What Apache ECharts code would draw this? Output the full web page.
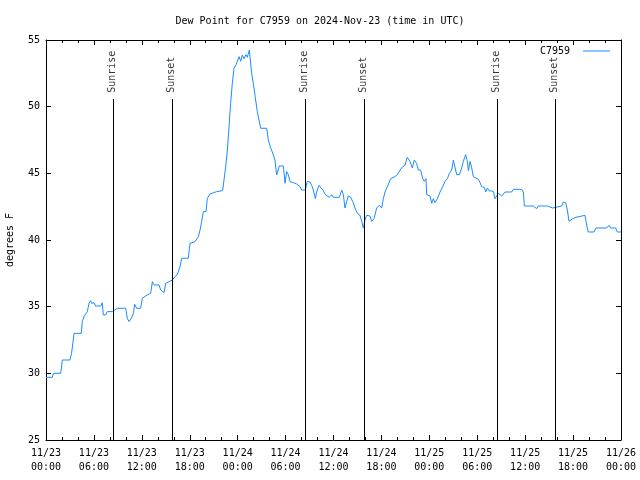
<!DOCTYPE html>
<html>
<head>
<meta charset="utf-8">
<script src="https://cdn.jsdelivr.net/npm/echarts@6/dist/echarts.min.js"></script>
<style>
html,body{margin:0;padding:0;background:#fff;}
#chart{width:640px;height:480px;}
</style>
</head>
<body>
<div id="chart"></div>
<script>
// Hours since 2024-11-23 00:00 UTC
const hours = [
  0.0, 0.79, 0.92, 1.84, 2.05, 3.0, 3.2, 3.35, 3.51, 4.42,
  4.55, 4.76, 4.9, 5.0, 5.18, 5.38, 5.59, 5.7, 6.01, 6.22,
  6.85, 7.05, 7.18, 7.47, 7.68, 8.31, 8.93, 9.98, 10.18, 10.39,
  10.69, 10.94, 11.1, 11.35, 11.85, 12.06, 12.69, 13.11, 13.32, 13.52,
  14.15, 14.36, 14.78, 14.99, 15.82, 16.03, 16.15, 16.44, 16.78, 16.99,
  17.82, 18.03, 18.66, 19.08, 19.29, 19.49, 19.7, 20.04, 20.2, 20.54,
  21.37, 22.12, 22.29, 22.5, 22.71, 22.92, 23.12, 23.33, 23.54, 23.79,
  23.96, 24.17, 24.38, 24.58, 24.79, 25.04, 25.21, 25.46, 25.75, 25.96,
  26.25, 26.46, 26.71, 26.88, 27.63, 27.84, 28.05, 28.26, 28.47, 28.67,
  28.88, 29.22, 29.72, 29.93, 30.14, 30.34, 30.55, 30.97, 31.39, 31.81,
  32.02, 32.47, 32.72, 33.06, 33.27, 33.47, 33.73, 33.89, 34.19, 34.44,
  34.73, 34.98, 35.23, 35.48, 35.77, 35.98, 36.73, 37.03, 37.23, 37.44,
  37.65, 37.86, 38.15, 38.4, 38.69, 38.99, 39.32, 39.53, 39.74, 39.95,
  40.15, 40.36, 40.57, 40.78, 41.07, 41.41, 41.74, 42.03, 42.24, 42.45,
  42.74, 42.99, 43.16, 43.41, 43.7, 43.99, 44.33, 44.66, 44.95, 45.24,
  45.58, 45.87, 46.12, 46.41, 46.62, 46.91, 47.17, 47.37, 47.58, 47.67,
  48.09, 48.3, 48.5, 48.71, 49.01, 49.34, 49.67, 49.97, 50.26, 50.51,
  50.8, 51.01, 51.26, 51.42, 51.76, 52.05, 52.26, 52.55, 52.76, 52.89,
  53.1, 53.31, 53.51, 53.72, 54.14, 54.35, 54.55, 54.89, 55.06, 55.27,
  55.47, 56.02, 56.22, 56.43, 56.64, 56.85, 57.06, 57.27, 57.48, 58.31,
  58.52, 59.56, 59.77, 59.9, 61.02, 61.23, 61.44, 61.65, 62.78, 62.99,
  63.45, 63.61, 64.57, 64.78, 65.07, 65.28, 65.49, 65.7, 65.95, 66.37,
  66.53, 67.49, 67.7, 67.91, 68.62, 68.87, 70.21, 70.5, 70.71, 71.33,
  71.54, 72.0
];
const dewF = [
  29.7, 29.7, 30.0, 30.0, 31.0, 31.0, 31.5, 32.2, 33.0, 33.0,
  33.9, 34.25, 34.1, 34.25, 34.63, 35.25, 35.45, 35.25, 35.3, 35.05,
  35.05, 35.3, 34.38, 34.38, 34.63, 34.63, 34.88, 34.88, 34.13, 33.88,
  34.13, 34.5, 35.18, 34.88, 34.88, 35.63, 35.88, 36.0, 36.88, 36.63,
  36.63, 36.25, 36.05, 36.75, 37.0, 37.05, 37.25, 37.4, 38.0, 38.63,
  38.63, 39.75, 39.88, 40.25, 40.75, 41.38, 42.13, 42.13, 43.13, 43.45,
  43.63, 43.7, 44.5, 45.5, 46.75, 48.5, 50.25, 51.75, 52.88, 53.13,
  53.25, 53.75, 53.4, 53.88, 53.6, 53.9, 53.7, 54.25, 52.5, 51.75,
  50.5, 49.63, 48.88, 48.38, 48.38, 47.5, 47.05, 47.0, 46.38, 46.0,
  44.88, 45.55, 45.55, 44.25, 45.13, 44.9, 44.38, 44.3, 44.2, 44.0,
  43.75, 43.75, 44.4, 44.35, 44.1, 43.75, 43.1, 43.6, 44.1, 43.9,
  43.7, 43.4, 43.45, 43.2, 43.4, 43.2, 43.2, 43.75, 43.4, 42.4,
  42.9, 43.3, 43.2, 42.9, 42.4, 42.0, 41.85, 41.4, 40.9, 41.5,
  41.85, 41.9, 41.8, 41.4, 41.6, 42.4, 42.6, 42.4, 43.1, 43.6,
  44.0, 44.1, 44.6, 44.5, 44.75, 44.9, 45.25, 45.5, 45.6, 46.2,
  45.9, 45.4, 46.0, 45.75, 45.25, 45.25, 44.6, 44.4, 44.6, 43.4,
  43.3, 42.75, 43.1, 42.8, 43.1, 43.6, 44.0, 44.4, 44.6, 45.0,
  45.25, 46.0, 46.1, 44.9, 44.9, 45.4, 45.9, 46.4, 45.9, 45.2,
  45.9, 45.4, 44.75, 44.6, 44.55, 44.3, 44.0, 43.95, 43.6, 43.9,
  43.7, 43.65, 43.1, 43.25, 43.5, 43.55, 43.3, 43.3, 43.6, 43.6,
  43.8, 43.8, 43.6, 42.55, 42.55, 42.4, 42.35, 42.55, 42.55, 42.4,
  42.4, 42.55, 42.55, 42.85, 42.8, 42.25, 41.4, 41.35, 41.6, 41.7,
  41.85, 41.85, 41.1, 40.6, 40.6, 40.9, 40.9, 41.1, 40.9, 40.9,
  40.6, 40.6
];
const sunriseHours = [8.42, 32.48, 56.51];
const sunsetHours = [15.82, 39.82, 63.78];
const eventLineTop = 50.57;
const eventLabelBase = 51.0;
const seriesName = 'C7959';
const titleText = 'Dew Point for C7959 on 2024-Nov-23 (time in UTC)';
const yAxisTitle = 'degrees F';
const xMin = 0, xMax = 72, xStep = 6;
const yMin = 25, yMax = 55, yStep = 5;

const FONT = 'DejaVu Sans Mono';
const lineColor = '#1a8cff';

function fmtX(v) {
  const day = 23 + Math.floor(v / 24 + 1e-9);
  const hh = Math.round(v - (day - 23) * 24);
  return '11/' + day + '\n' + (hh < 10 ? '0' : '') + hh + ':00';
}

const events = [];
sunriseHours.forEach(h => events.push({h: h, name: 'Sunrise'}));
sunsetHours.forEach(h => events.push({h: h, name: 'Sunset'}));

const chart = echarts.init(document.getElementById('chart'), null, {renderer: 'canvas'});
const axisCommon = {
  axisLine: {show: true, onZero: false, lineStyle: {color: '#000', width: 1}},
  splitLine: {show: false}
};
chart.setOption({
  animation: false,
  backgroundColor: '#fff',
  textStyle: {fontFamily: FONT, color: '#000'},
  title: {
    text: titleText, left: 'center', top: 11,
    textStyle: {fontFamily: FONT, fontSize: 10, fontWeight: 'normal', color: '#000'}
  },
  legend: {
    data: [{name: seriesName, icon: 'rect'}], right: 25, top: 41, align: 'right',
    itemWidth: 27, itemHeight: 1, itemGap: 0,
    textStyle: {fontFamily: FONT, fontSize: 10, color: '#000', padding: [0, 8, 0, 0]}
  },
  grid: {left: 46, right: 19, top: 40, bottom: 40, containLabel: false, outerBoundsMode: 'none'},
  xAxis: [
    Object.assign({}, axisCommon, {
      type: 'value', min: xMin, max: xMax, interval: xStep, position: 'bottom',
      axisTick: {show: true, inside: true, length: 5, lineStyle: {color: '#000'}},
      minorTick: {show: true, splitNumber: 3, length: 3, lineStyle: {color: '#000'}},
      minorSplitLine: {show: false},
      axisLabel: {fontFamily: FONT, fontSize: 10, color: '#000', margin: 6, lineHeight: 14, formatter: fmtX}
    }),
    Object.assign({}, axisCommon, {
      type: 'value', min: xMin, max: xMax, interval: xStep, position: 'top',
      axisTick: {show: true, inside: true, length: 5, lineStyle: {color: '#000'}},
      minorTick: {show: true, splitNumber: 3, length: 3, lineStyle: {color: '#000'}},
      minorSplitLine: {show: false},
      axisLabel: {show: false}
    })
  ],
  yAxis: [
    Object.assign({}, axisCommon, {
      type: 'value', min: yMin, max: yMax, interval: yStep, position: 'left',
      name: yAxisTitle, nameLocation: 'middle', nameGap: 31, nameRotate: 90,
      nameTextStyle: {fontFamily: FONT, fontSize: 10, color: '#000'},
      axisTick: {show: true, inside: true, length: 5, lineStyle: {color: '#000'}},
      axisLabel: {fontFamily: FONT, fontSize: 10, color: '#000', margin: 6}
    }),
    Object.assign({}, axisCommon, {
      type: 'value', min: yMin, max: yMax, interval: yStep, position: 'right',
      axisTick: {show: true, inside: true, length: 5, lineStyle: {color: '#000'}},
      axisLabel: {show: false}
    })
  ],
  series: [
    {
      name: seriesName, type: 'line', xAxisIndex: 0, yAxisIndex: 0,
      data: hours.map((h, i) => [h, dewF[i]]),
      symbol: 'none', showSymbol: false,
      lineStyle: {color: lineColor, width: 1},
      itemStyle: {color: lineColor},
      z: 3
    },
    {
      name: 'events', type: 'line', xAxisIndex: 0, yAxisIndex: 0, data: [],
      markLine: {
        silent: true, symbol: ['none', 'none'], animation: false,
        lineStyle: {color: '#000', width: 1, type: 'solid'},
        label: {show: false},
        data: events.map(e => [{coord: [e.h, yMin]}, {coord: [e.h, eventLineTop]}])
      },
      z: 2
    },
    {
      name: 'eventLabels', type: 'scatter', xAxisIndex: 0, yAxisIndex: 0,
      symbolSize: 1, itemStyle: {color: 'rgba(0,0,0,0)'}, silent: true,
      data: events.map(e => [e.h, eventLabelBase, e.name]),
      label: {
        show: true, position: [0, 0], rotate: 90, align: 'left', verticalAlign: 'middle',
        fontFamily: FONT, fontSize: 10, color: '#000',
        formatter: p => p.value[2]
      },
      labelLayout: {hideOverlap: false},
      z: 2
    }
  ]
});
</script>
</body>
</html>
